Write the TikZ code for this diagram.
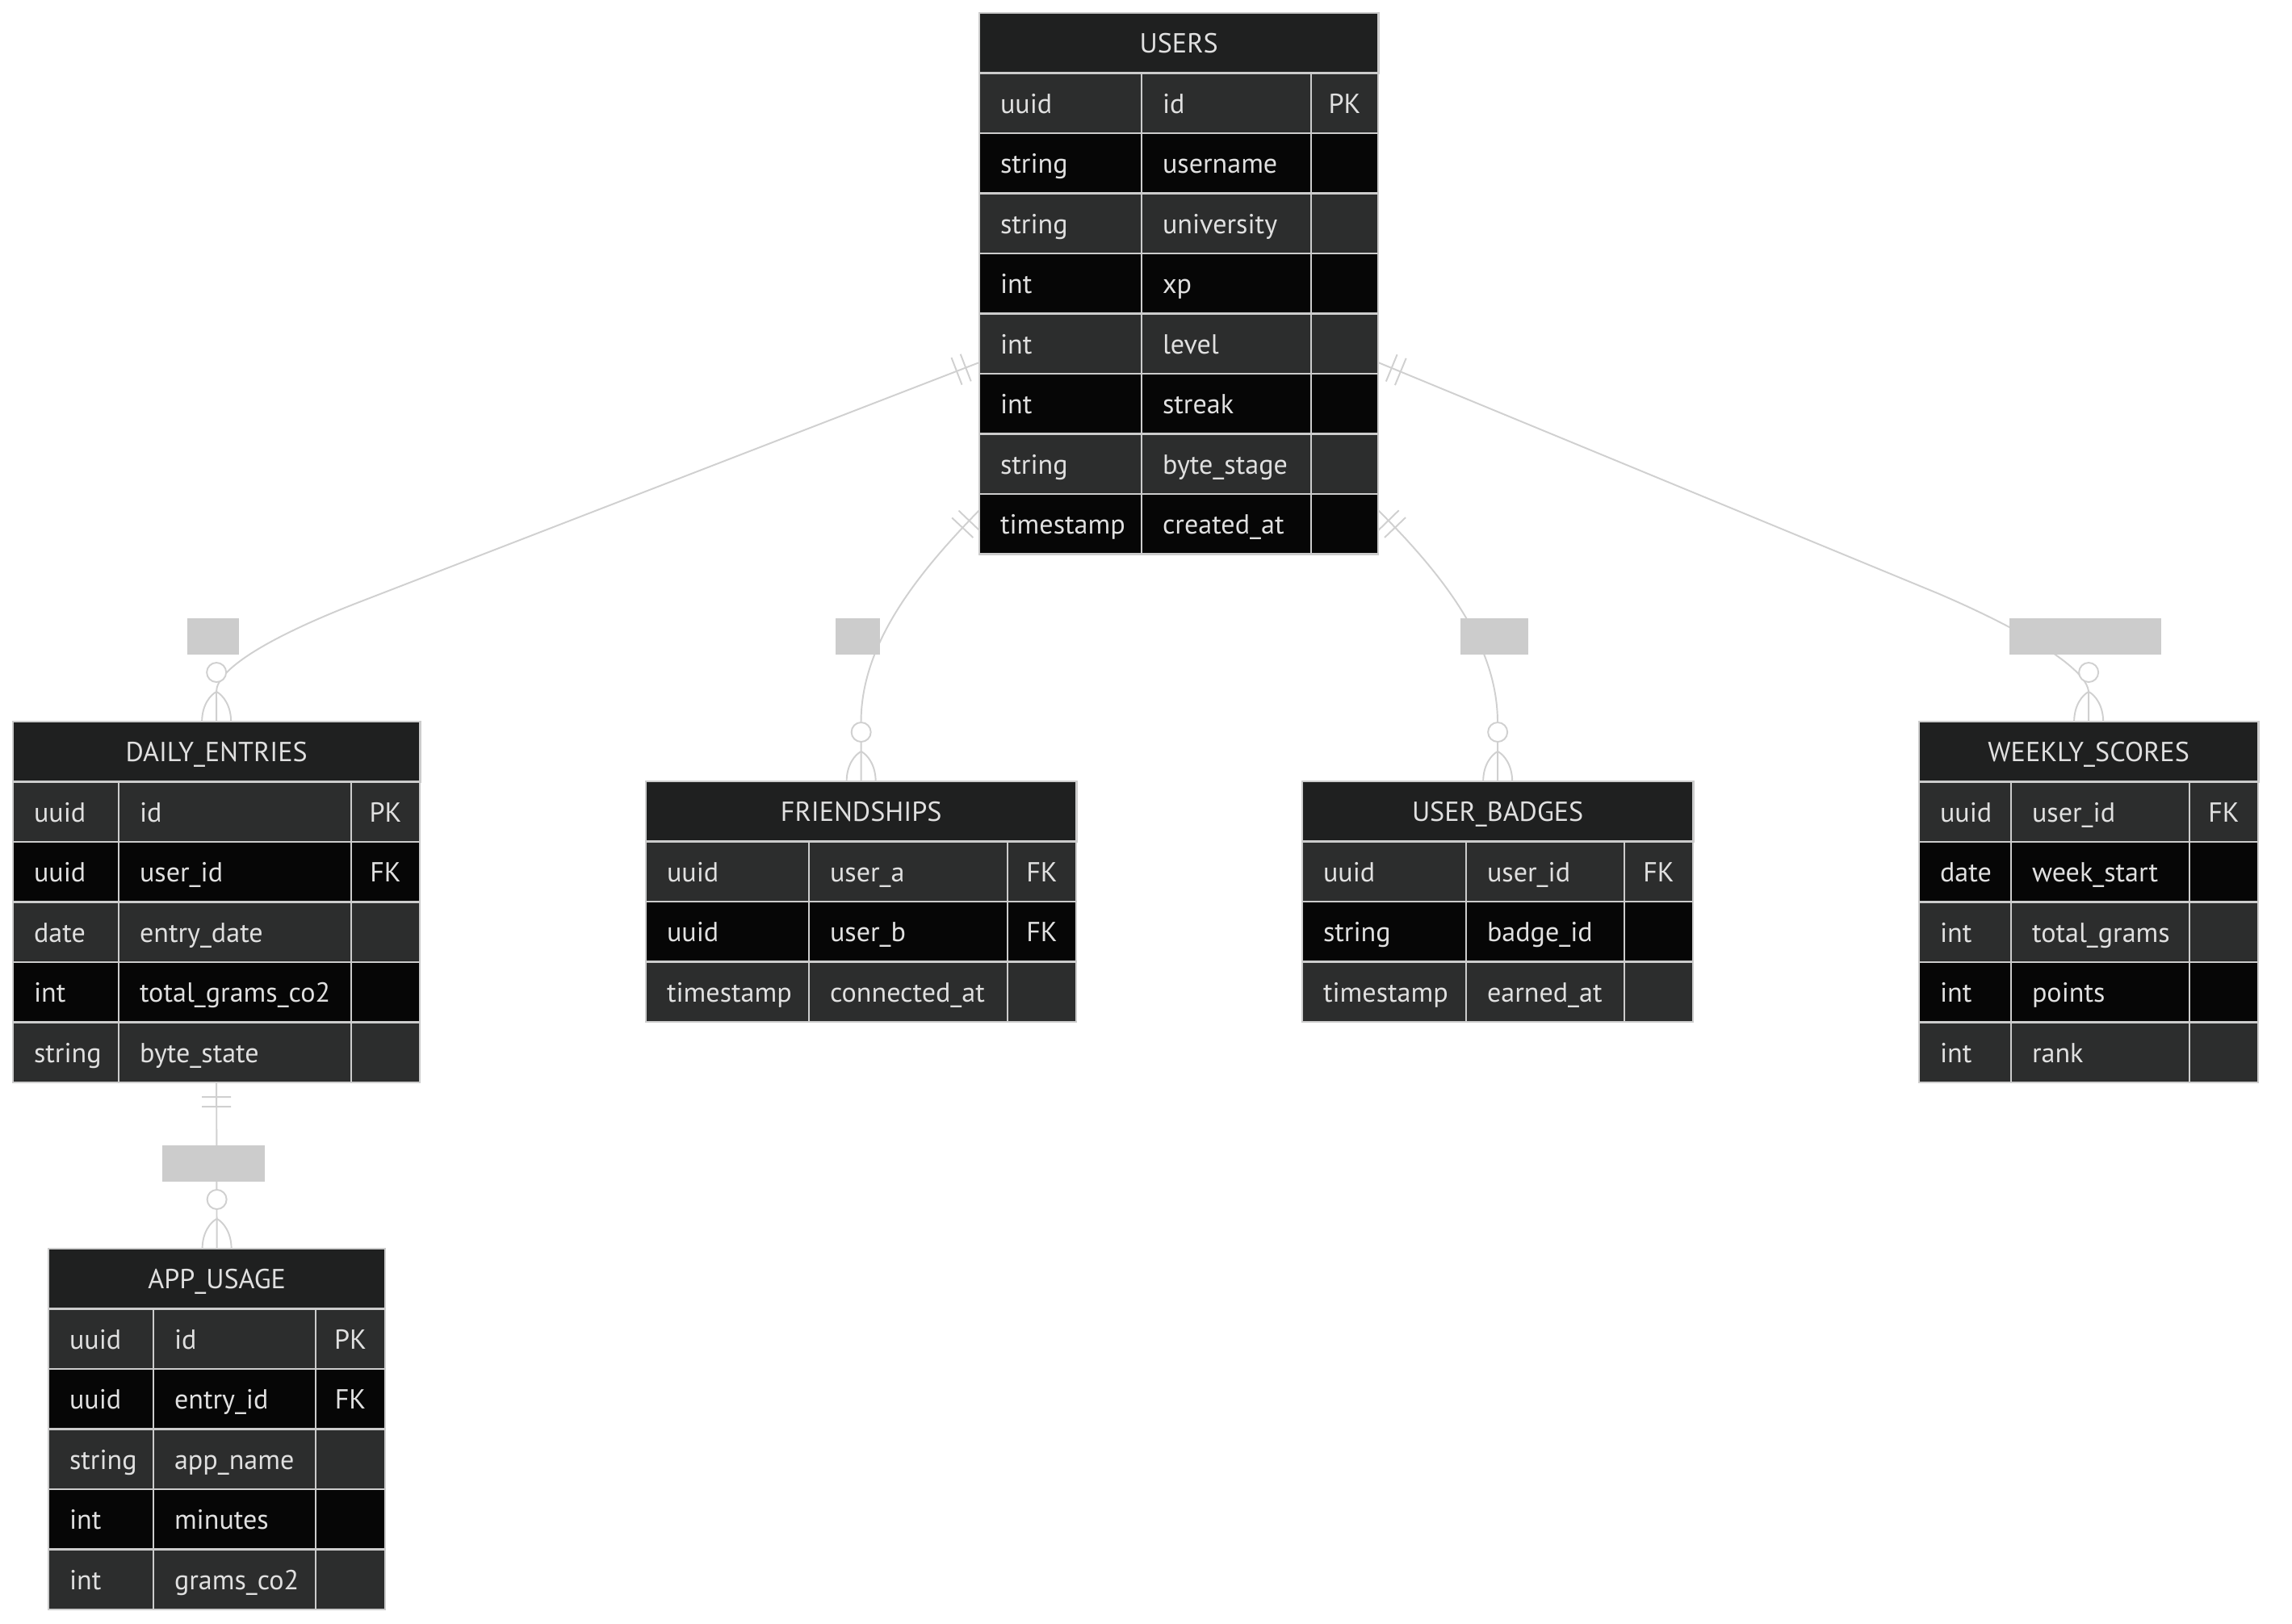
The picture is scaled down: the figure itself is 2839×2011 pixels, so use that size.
\documentclass[tikz,border=0pt]{standalone}
\usepackage{fontspec}
\setmainfont{PT Sans}
\usetikzlibrary{decorations.markings}
\definecolor{headfill}{HTML}{1F2020}
\definecolor{row1}{HTML}{2C2D2D}
\definecolor{row0}{HTML}{060606}
\definecolor{cellline}{HTML}{CCCCCC}
\definecolor{wire}{HTML}{D0D0D0}
\definecolor{txt}{HTML}{E0E0E0}
\definecolor{tagfill}{HTML}{CCCCCC}

\begin{document}
\begin{tikzpicture}[x=0.01cm, y=-0.01cm,
  font=\fontsize{9.7}{11}\selectfont,
  base/.style={draw=cellline, line width=0.7pt, text=txt, anchor=north west, outer sep=0pt, inner ysep=0pt, minimum height=0.745cm, text height=8.8pt, text depth=1.6pt},
  head/.style={base, fill=headfill, inner xsep=0pt},
  cell/.style={base, inner xsep=0.26cm, align=left},
  keycell/.style={base, inner xsep=0pt},
  tag/.style={fill=tagfill, inner sep=0pt, minimum height=0.45cm},
  erline/.style={draw=wire, line width=0.55pt},
  onebar/.style={postaction={decorate, decoration={markings,
    mark=at position 0.18cm with {\draw[erline] (0,-0.18cm) -- (0,0.18cm);},
    mark=at position 0.30cm with {\draw[erline] (0,-0.18cm) -- (0,0.18cm);}}}},
  crowfoot/.pic={
    \draw[erline, fill=white] (0,-61) circle (12);
    \draw[erline] (-18,0) .. controls (-18,-20) and (-8,-33) .. (0,-37) .. controls (8,-33) and (18,-20) .. (18,0);}]
\path[use as bounding box, fill=white] (0,0) rectangle (2839,2011);

\node[head, minimum width=4.94cm] (users) at (1213,16) {USERS};
\foreach \ty/\fld/\ky [count=\i] in {uuid/id/PK, string/username/{}, string/university/{}, int/xp/{}, int/level/{}, int/streak/{}, string/byte\_stage/{}, timestamp/created\_at/{}}{
  \pgfmathtruncatemacro\r{mod(\i,2)}
  \node[cell, fill=row\r, text width=1.49cm] (users-t\i) at (1213,16+74.5*\i) {\ty};
  \node[cell, fill=row\r, text width=1.58cm] (users-n\i) at (1414,16+74.5*\i) {\fld};
  \node[keycell, fill=row\r, minimum width=0.83cm] (users-k\i) at (1624,16+74.5*\i) {\ky};
}

\node[head, minimum width=5.04cm] (de) at (16,894) {DAILY\_ENTRIES};
\foreach \ty/\fld/\ky [count=\i] in {uuid/id/PK, uuid/user\_id/FK, date/entry\_date/{}, int/total\_grams\_co2/{}, string/byte\_state/{}}{
  \pgfmathtruncatemacro\r{mod(\i,2)}
  \node[cell, fill=row\r, text width=0.79cm] (de-t\i) at (16,894+74.5*\i) {\ty};
  \node[cell, fill=row\r, text width=2.36cm] (de-n\i) at (147,894+74.5*\i) {\fld};
  \node[keycell, fill=row\r, minimum width=0.85cm] (de-k\i) at (435,894+74.5*\i) {\ky};
}

\node[head, minimum width=4.17cm] (au) at (60,1547) {APP\_USAGE};
\foreach \ty/\fld/\ky [count=\i] in {uuid/id/PK, uuid/entry\_id/FK, string/app\_name/{}, int/minutes/{}, int/grams\_co2/{}}{
  \pgfmathtruncatemacro\r{mod(\i,2)}
  \node[cell, fill=row\r, text width=0.78cm] (au-t\i) at (60,1547+74.5*\i) {\ty};
  \node[cell, fill=row\r, text width=1.49cm] (au-n\i) at (190,1547+74.5*\i) {\fld};
  \node[keycell, fill=row\r, minimum width=0.86cm] (au-k\i) at (391,1547+74.5*\i) {\ky};
}

\node[head, minimum width=5.33cm] (fr) at (800,968) {FRIENDSHIPS};
\foreach \ty/\fld/\ky [count=\i] in {uuid/user\_a/FK, uuid/user\_b/FK, timestamp/connected\_at/{}}{
  \pgfmathtruncatemacro\r{mod(\i,2)}
  \node[cell, fill=row\r, text width=1.50cm] (fr-t\i) at (800,968+74.5*\i) {\ty};
  \node[cell, fill=row\r, text width=1.94cm] (fr-n\i) at (1002,968+74.5*\i) {\fld};
  \node[keycell, fill=row\r, minimum width=0.85cm] (fr-k\i) at (1248,968+74.5*\i) {\ky};
}

\node[head, minimum width=4.84cm] (ub) at (1613,968) {USER\_BADGES};
\foreach \ty/\fld/\ky [count=\i] in {uuid/user\_id/FK, string/badge\_id/{}, timestamp/earned\_at/{}}{
  \pgfmathtruncatemacro\r{mod(\i,2)}
  \node[cell, fill=row\r, text width=1.51cm] (ub-t\i) at (1613,968+74.5*\i) {\ty};
  \node[cell, fill=row\r, text width=1.44cm] (ub-n\i) at (1816,968+74.5*\i) {\fld};
  \node[keycell, fill=row\r, minimum width=0.85cm] (ub-k\i) at (2012,968+74.5*\i) {\ky};
}

\node[head, minimum width=4.20cm] (ws) at (2377,894) {WEEKLY\_SCORES};
\foreach \ty/\fld/\ky [count=\i] in {uuid/user\_id/FK, date/week\_start/{}, int/total\_grams/{}, int/points/{}, int/rank/{}}{
  \pgfmathtruncatemacro\r{mod(\i,2)}
  \node[cell, fill=row\r, text width=0.62cm] (ws-t\i) at (2377,894+74.5*\i) {\ty};
  \node[cell, fill=row\r, text width=1.69cm] (ws-n\i) at (2491,894+74.5*\i) {\fld};
  \node[keycell, fill=row\r, minimum width=0.85cm] (ws-k\i) at (2712,894+74.5*\i) {\ky};
}

\coordinate (uw1) at ([yshift=0.14cm]users-t5.south west);
\coordinate (uw2) at ([yshift=-0.2cm]users-t7.south west);
\coordinate (ue1) at ([yshift=0.14cm]users-k5.south east);
\coordinate (ue2) at ([yshift=-0.2cm]users-k7.south east);

\draw[erline, onebar] (uw1) -- (450,744) .. controls (330,790) and (268,830) .. (268,857) -- (de.north);
\draw[erline, onebar] (uw2) .. controls (1132,715) and (1066.5,800) .. (1066.5,895) -- (fr.north);
\draw[erline, onebar] (ue2) .. controls (1790,715) and (1855,800) .. (1855,895) -- (ub.north);
\draw[erline, onebar] (ue1) -- (2400,735) .. controls (2510,782) and (2587,830) .. (2587,858) -- (ws.north);
\draw[erline, onebar] (de-n5.south -| de.north) -- (au.north);
\foreach \e in {de,fr,ub,ws,au} \pic at (\e.north) {crowfoot};

\node[tag, minimum width=0.64cm] (lab1) at (264,788.5) {};
\node[tag, minimum width=0.55cm] (lab2) at (1062.5,788.5) {};
\node[tag, minimum width=0.84cm] (lab3) at (1851,788.5) {};
\node[tag, minimum width=1.88cm] (lab4) at (2583,788.5) {};
\node[tag, minimum width=1.27cm] (lab5) at (264.5,1441.5) {};
\end{tikzpicture}
\end{document}
